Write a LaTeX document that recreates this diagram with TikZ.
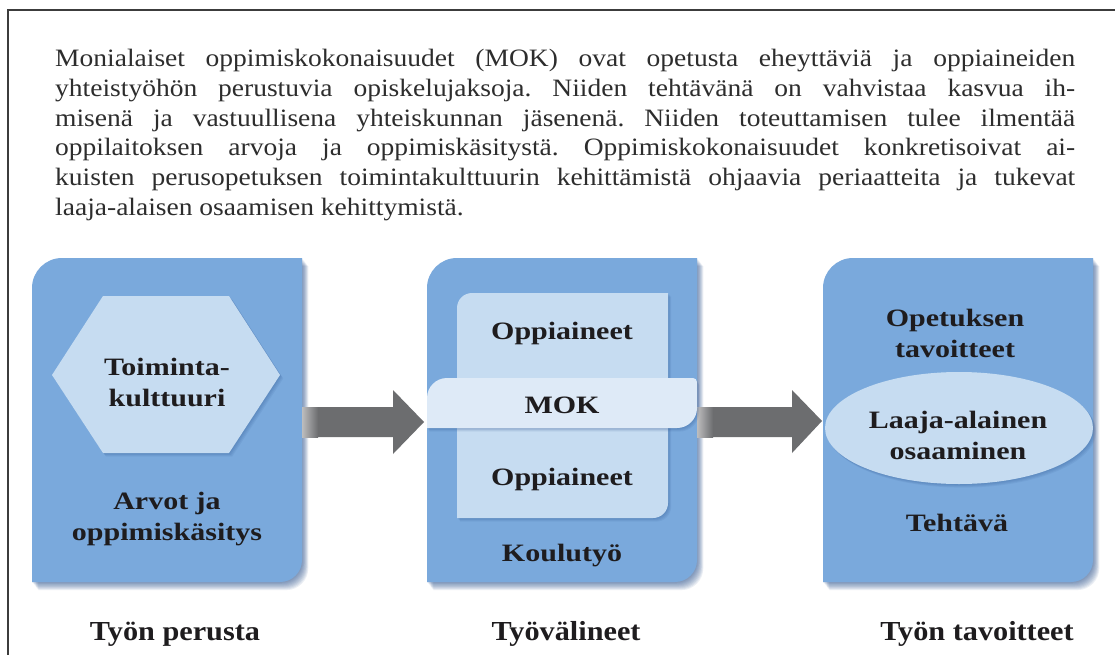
\documentclass[tikz,border=0pt]{standalone}
\usepackage{fontspec}
\setmainfont{Liberation Serif}[FakeStretch=1.2]
\newfontfamily\capfont{Liberation Serif}[FakeStretch=1.1]
\newfontfamily\bodyfont{Liberation Serif}[FakeStretch=1.1]
\definecolor{boxblue}{RGB}{122,169,220}
\definecolor{panelblue}{RGB}{198,220,241}
\definecolor{bandblue}{RGB}{222,234,247}
\definecolor{shadowc}{RGB}{40,80,140}
\definecolor{arrowgray}{RGB}{108,109,111}
\definecolor{txt}{RGB}{30,28,30}
\definecolor{bodytxt}{RGB}{45,45,45}
\definecolor{framec}{RGB}{60,60,60}
\tikzset{
  lbl/.style={font=\fontsize{25}{31}\selectfont\bfseries, align=center, text=txt, inner sep=0pt},
  caplabel/.style={font=\capfont\fontsize{27.5}{32}\selectfont\bfseries, text=txt, inner sep=0pt, anchor=base},
  boxfill/.style={fill=boxblue},
  shade layer/.style={fill=shadowc, fill opacity=0.085},
  arrowfill/.style={fill=arrowgray}
}
\begin{document}
\begin{tikzpicture}[x=1pt,y=1pt]
\useasboundingbox (0,0) rectangle (1115,-655);
\fill[white] (0,0) rectangle (1115,-655);
% frame
\draw[framec, line width=1.4pt] (8,-660) -- (8,-10) -- (1120,-10);
% paragraph
\node[anchor=north west, text width=1020pt, align=justify, inner sep=0pt, text=bodytxt,
      font=\bodyfont\fontsize{25}{29.8}\selectfont] (para) at (55,-49) {%
\frenchspacing\hyphenpenalty=10000\exhyphenpenalty=10000
Monialaiset oppimiskokonaisuudet (MOK) ovat opetusta eheyttäviä ja oppiaineiden\linebreak
yhteistyöhön perustuvia opiskelujaksoja. Niiden tehtävänä on vahvistaa kasvua ih-\linebreak
misenä ja vastuullisena yhteiskunnan jäsenenä. Niiden toteuttamisen tulee ilmentää\linebreak
oppilaitoksen arvoja ja oppimiskäsitystä. Oppimiskokonaisuudet konkretisoivat ai-\linebreak
kuisten perusopetuksen toimintakulttuurin kehittämistä ohjaavia periaatteita ja tukevat\linebreak
laaja-alaisen osaamisen kehittymistä.};
% big boxes with soft shadows
\foreach \bx in {32,427,823} {
  \foreach \k in {1,...,9} {
    \begin{scope}[shift={(\k*0.7,-\k*0.9)}]
      \fill[shade layer] (\bx,-582) -- (\bx,-288) arc[start angle=180,end angle=90,radius=30]
        -- (\bx+270,-258) -- (\bx+270,-560) arc[start angle=0,end angle=-90,radius=22] -- cycle;
    \end{scope}
  }
  \fill[boxfill] (\bx,-582) -- (\bx,-288) arc[start angle=180,end angle=90,radius=30]
    -- (\bx+270,-258) -- (\bx+270,-560) arc[start angle=0,end angle=-90,radius=22] -- cycle;
}
% arrows
\fill[arrowfill] (302,-407) -- (393,-407) -- (393,-390) -- (424,-422) -- (393,-454) -- (393,-437) -- (302,-437) -- cycle;
\shade[left color=arrowgray!45!white, right color=arrowgray] (302,-407) rectangle (318,-437);
\fill[arrowfill] (697,-407) -- (792,-407) -- (792,-390) -- (822,-421) -- (792,-453) -- (792,-437) -- (697,-437) -- cycle;
\shade[left color=arrowgray!45!white, right color=arrowgray] (697,-407) rectangle (713,-437);
% hexagon
\foreach \k in {1,...,4} {
  \begin{scope}[shift={(\k*0.8,-\k*0.9)}]
    \fill[shade layer] (52,-375) -- (103,-296) -- (229,-296) -- (280,-375) -- (229,-453) -- (103,-453) -- cycle;
  \end{scope}
}
\fill[panelblue] (52,-375) -- (103,-296) -- (229,-296) -- (280,-375) -- (229,-453) -- (103,-453) -- cycle;
% inner panel of box 2
\foreach \k in {1,...,4} {
  \begin{scope}[shift={(\k*0.8,-\k*0.9)}]
    \fill[shade layer] (457,-518) -- (457,-308) arc[start angle=180,end angle=90,radius=15]
      -- (668,-293) -- (668,-503) arc[start angle=0,end angle=-90,radius=15] -- cycle;
  \end{scope}
}
\fill[panelblue] (457,-518) -- (457,-308) arc[start angle=180,end angle=90,radius=15]
  -- (668,-293) -- (668,-503) arc[start angle=0,end angle=-90,radius=15] -- cycle;
% MOK band
\foreach \k in {1,...,4} {
  \begin{scope}[shift={(\k*0.6,-\k*0.9)}]
    \fill[shade layer] (427,-428) -- (427,-398) arc[start angle=180,end angle=90,radius=20]
      -- (693,-378) arc[start angle=90,end angle=0,radius=4] -- (697,-408)
      arc[start angle=0,end angle=-90,radius=20] -- cycle;
  \end{scope}
}
\fill[bandblue] (427,-428) -- (427,-398) arc[start angle=180,end angle=90,radius=20]
  -- (693,-378) arc[start angle=90,end angle=0,radius=4] -- (697,-408)
  arc[start angle=0,end angle=-90,radius=20] -- cycle;
% ellipse
\foreach \k in {1,...,4} {
  \fill[shade layer] (959+\k*0.8,-428-\k*0.9) ellipse[x radius=134, y radius=56];
}
\fill[panelblue] (959,-428) ellipse[x radius=134, y radius=56];
% labels
\node[lbl] (toim) at (167,-382) {Toiminta-\\kulttuuri};
\node[lbl] (arvot) at (167,-519) {Arvot ja\\oppimiskäsitys};
\node[lbl] (opp1) at (562,-333) {Oppiaineet};
\node[lbl] (mok) at (562,-405) {MOK};
\node[lbl] (opp2) at (562,-479) {Oppiaineet};
\node[lbl] (koulu) at (562,-556) {Koulutyö};
\node[lbl] (opet) at (955,-333) {Opetuksen\\tavoitteet};
\node[lbl] (laaja) at (958,-435) {Laaja-alainen\\osaaminen};
\node[lbl] (teht) at (957,-523) {Tehtävä};
\node[caplabel] (c1) at (175,-640) {Työn perusta};
\node[caplabel] (c2) at (566,-640) {Työvälineet};
\node[caplabel] (c3) at (977,-640) {Työn tavoitteet};
\end{tikzpicture}
\end{document}
